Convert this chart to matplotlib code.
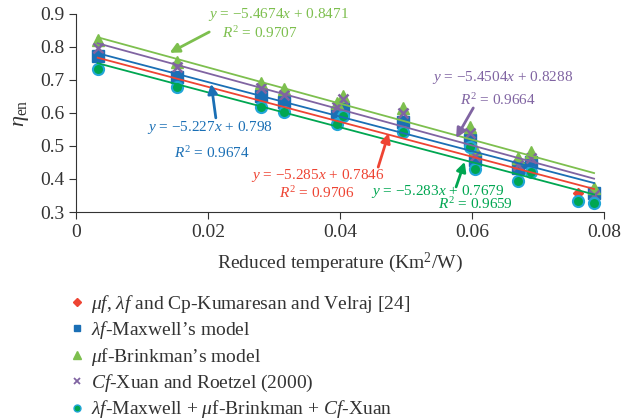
import numpy as np
import matplotlib
matplotlib.use("Agg")
import matplotlib.pyplot as plt
from matplotlib.lines import Line2D
from matplotlib.ticker import FormatStrFormatter

plt.rcParams['font.family'] = ['Liberation Serif', 'DejaVu Serif']
plt.rcParams['mathtext.fontset'] = 'custom'
plt.rcParams['mathtext.rm'] = 'Liberation Serif'
plt.rcParams['mathtext.it'] = 'Liberation Serif:italic'

# reduced temperature (Km2/W)
x_vals = [0.0033, 0.0153, 0.028, 0.0315, 0.0395, 0.0405, 0.0495,
          0.0597, 0.0605, 0.067, 0.069, 0.076, 0.0785]

# efficiency per property model
kumaresan = [0.762, 0.702, 0.642, 0.625, 0.590, 0.604, 0.565,
             0.510, 0.450, 0.425, 0.444, 0.358, 0.350]
maxwell = [0.771, 0.710, 0.650, 0.633, 0.600, 0.612, 0.573,
           0.518, 0.458, 0.433, 0.452, np.nan, 0.357]
brinkman = [0.821, 0.755, 0.691, 0.673, 0.630, 0.652, 0.615,
            0.558, 0.490, 0.464, 0.482, np.nan, 0.373]
xuan = [0.797, 0.740, 0.676, 0.655, 0.618, 0.642, 0.600,
        0.540, 0.470, 0.442, 0.464, np.nan, 0.351]
combined = [0.733, 0.679, 0.618, 0.603, 0.567, 0.591, 0.542,
            0.497, 0.430, 0.394, 0.421, 0.333, 0.327]

# trendline equations (slope, intercept, R2)
fit_slopes = [-5.285, -5.227, -5.4674, -5.4504, -5.283]
fit_intercepts = [0.7846, 0.798, 0.8471, 0.8288, 0.7679]
fit_r2 = [0.9706, 0.9674, 0.9707, 0.9664, 0.9659]

labels = [r"$\mu f$, $\lambda f$ and Cp-Kumaresan and Velraj [24]",
          r"$\lambda f$-Maxwell’s model",
          r"$\mu$f-Brinkman’s model",
          r"$Cf$-Xuan and Roetzel (2000)",
          r"$\lambda f$-Maxwell + $\mu$f-Brinkman + $Cf$-Xuan"]

red = '#ee4433'
blue = '#1a6fb5'
lgreen = '#7dbf4e'
purple = '#8064a2'
dgreen = '#00a651'
teal = '#22a6d8'

fig = plt.figure(figsize=(6.22, 4.19), dpi=100)
ax = fig.add_axes([0.122, 0.494, 0.849, 0.473])

ax.plot(x_vals, kumaresan, 'D', ms=5, color=red, zorder=2)
ax.plot(x_vals, maxwell, 's', ms=8, color=blue, zorder=3)
ax.plot(x_vals, brinkman, '^', ms=8.5, color=lgreen, zorder=3)
ax.plot(x_vals, xuan, 'x', ms=7, mew=1.8, color=purple, zorder=4)
ax.plot(x_vals, combined, 'o', ms=8, color=dgreen, mec=teal, mew=1.5, zorder=4)

# trend lines over the data range
xl = np.array([min(x_vals), max(x_vals)])
line_colors = [red, blue, lgreen, purple, dgreen]
for m, b, c in zip(fit_slopes, fit_intercepts, line_colors):
    ax.plot(xl, m * xl + b, color=c, lw=1.3, zorder=5)

ax.set_xlim(0, 0.08)
ax.set_ylim(0.3, 0.9)
ax.set_xticks([0, 0.02, 0.04, 0.06, 0.08])
ax.set_xticklabels(['0', '0.02', '0.04', '0.06', '0.08'])
ax.set_yticks(np.arange(0.3, 0.91, 0.1))
ax.yaxis.set_major_formatter(FormatStrFormatter('%.1f'))
ax.spines['top'].set_visible(False)
ax.spines['right'].set_visible(False)
for s in ['left', 'bottom']:
    ax.spines[s].set_color('#333333')
ax.tick_params(labelsize=14, direction='out', length=5, colors='#333333',
               labelcolor='#333333')
ax.set_xlabel(r"Reduced temperature (Km$^2$/W)", fontsize=14, color='#333333', labelpad=7)
ax.set_ylabel(r"$\eta_{\mathrm{en}}$", fontsize=16, color='#333333', labelpad=6)


def eq_text(i, line1_xy, line2_xy, tail, head, c):
    m, b = fit_slopes[i], fit_intercepts[i]
    ax.text(line1_xy[0], line1_xy[1],
            r"$y$ = −" + str(abs(m)) + r"$x$ + " + str(b),
            color=c, fontsize=11, ha='center', va='center', zorder=6)
    ax.text(line2_xy[0], line2_xy[1], r"$R^2$ = " + str(fit_r2[i]),
            color=c, fontsize=11, ha='center', va='center', zorder=6)
    ax.annotate('', xy=head, xytext=tail,
                arrowprops=dict(arrowstyle='-|>', color=c, lw=2,
                                mutation_scale=14, shrinkA=0, shrinkB=0),
                zorder=6)


eq_text(2, (0.0307, 0.897), (0.0279, 0.842), (0.0202, 0.845), (0.0142, 0.782), lgreen)
eq_text(1, (0.0203, 0.555), (0.0206, 0.479), (0.0212, 0.585), (0.0205, 0.688), blue)
eq_text(0, (0.0367, 0.412), (0.0365, 0.358), (0.0458, 0.436), (0.0474, 0.539), red)
eq_text(3, (0.0647, 0.706), (0.0639, 0.639), (0.0602, 0.615), (0.0576, 0.524), purple)
eq_text(4, (0.0548, 0.361), (0.0605, 0.324), (0.0576, 0.376), (0.0589, 0.452), dgreen)

handles = [
    Line2D([], [], ls='none', marker='D', ms=4, color=red),
    Line2D([], [], ls='none', marker='s', ms=5, color=blue),
    Line2D([], [], ls='none', marker='^', ms=6, color=lgreen),
    Line2D([], [], ls='none', marker='x', ms=5, mew=1.3, color=purple),
    Line2D([], [], ls='none', marker='o', ms=5, color=dgreen, mec=teal, mew=1),
]
fig.legend(handles, labels, loc='upper left', bbox_to_anchor=(0.095, 0.325),
           frameon=False, fontsize=14, handlelength=0.8, handletextpad=0.35,
           labelspacing=0.24, borderpad=0, labelcolor='#333333')

fig.savefig('out.png', dpi=100)
